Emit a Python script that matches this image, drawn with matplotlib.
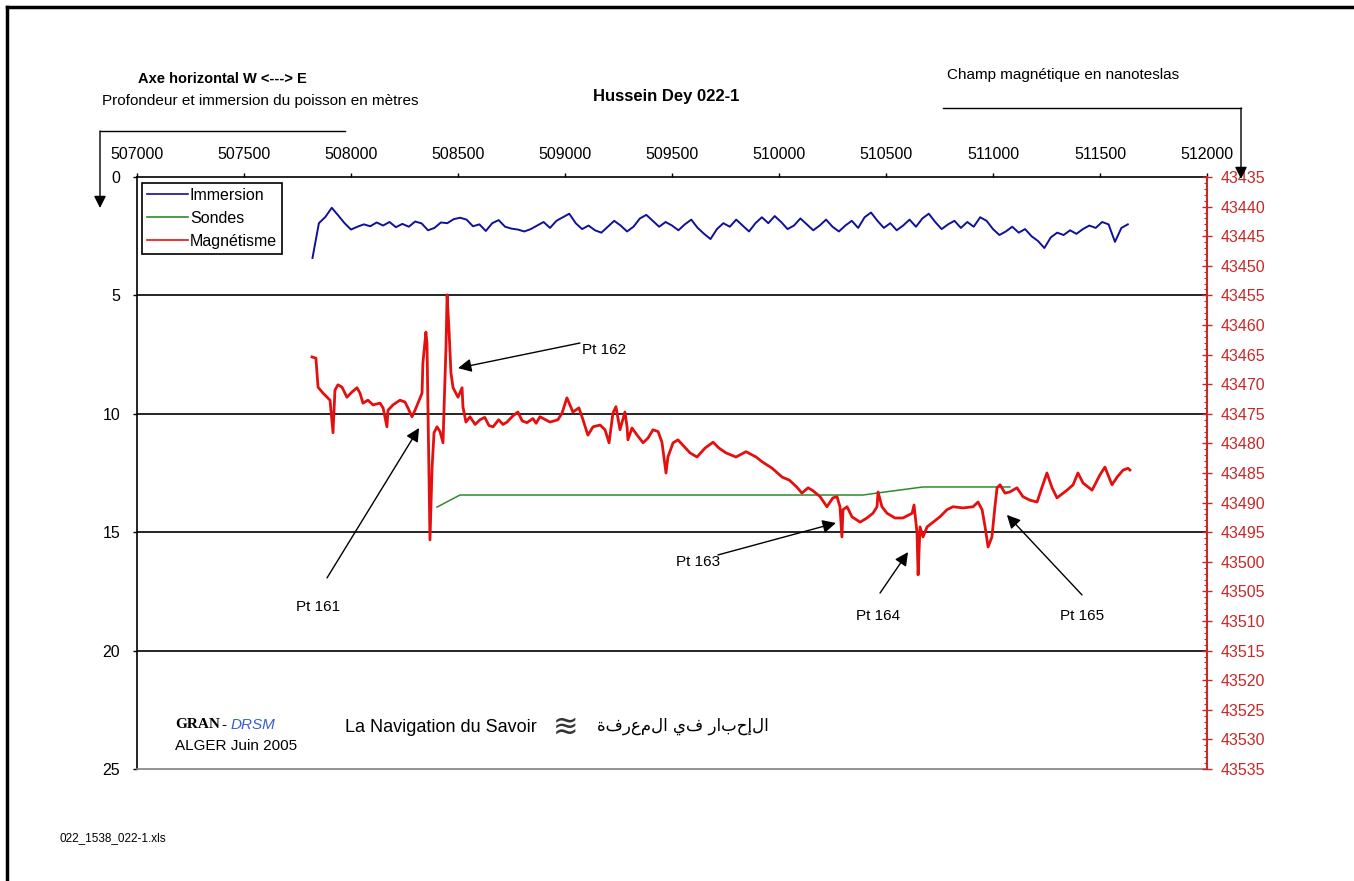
import numpy as np
import matplotlib
matplotlib.use('Agg')
import matplotlib.pyplot as plt
from matplotlib.lines import Line2D
from matplotlib.ticker import MultipleLocator

plt.rcParams['font.family'] = ['Liberation Sans', 'DejaVu Sans']

W, H = 1354, 881

# ── Data ──────────────────────────────────────────────────────────────────────
# Immersion (depth of the towed fish, m), regular 30 m sampling from 507820
imm_start, imm_step = 507820, 30
imm_depth = [
    3.42, 1.95, 1.69, 1.30, 1.62, 1.95, 2.22, 2.10, 2.00, 2.08,
    1.92, 2.05, 1.90, 2.12, 1.98, 2.10, 1.88, 1.96, 2.25, 2.15,
    1.92, 1.95, 1.78, 1.72, 1.80, 2.08, 2.00, 2.28, 1.95, 1.82,
    2.10, 2.18, 2.22, 2.30, 2.20, 2.05, 1.90, 2.15, 1.85, 1.70,
    1.55, 1.95, 2.20, 2.05, 2.25, 2.35, 2.10, 1.85, 2.05, 2.30,
    2.10, 1.75, 1.60, 1.85, 2.10, 1.90, 2.05, 2.25, 2.00, 1.80,
    2.15, 2.40, 2.62, 2.20, 1.95, 2.10, 1.80, 2.05, 2.30, 1.95,
    1.70, 1.95, 1.65, 1.90, 2.20, 2.05, 1.75, 2.00, 2.25, 2.05,
    1.80, 2.10, 2.30, 2.05, 1.85, 2.15, 1.70, 1.50, 1.85, 2.15,
    1.95, 2.25, 2.05, 1.80, 2.10, 1.75, 1.55, 1.90, 2.20, 2.00,
    1.85, 2.15, 1.90, 2.10, 1.70, 1.85, 2.20, 2.45, 2.30, 2.10,
    2.35, 2.20, 2.50, 2.70, 3.00, 2.55, 2.35, 2.45, 2.25, 2.40,
    2.20, 2.05, 2.15, 1.90, 2.00, 2.74, 2.15, 2.00,
]

# Sondes (sounded depth, m)
sondes_e = [508402, 508509, 510393, 510463, 510673, 511079]
sondes_depth = [13.94, 13.43, 13.43, 13.34, 13.09, 13.09]

# Magnetisme (nT)
mag_e = [
    507818, 507836, 507846, 507869, 507902, 507916, 507925, 507939, 507958, 507981,
    508005, 508028, 508042, 508056, 508079, 508103, 508136, 508150, 508168, 508173,
    508196, 508229, 508252, 508266, 508285, 508299, 508313, 508332, 508336, 508350,
    508355, 508360, 508369, 508379, 508388, 508402, 508416, 508430, 508435, 508444,
    508449, 508458, 508467, 508477, 508500, 508519, 508523, 508537, 508556, 508580,
    508603, 508625, 508645, 508664, 508690, 508710, 508729, 508755, 508780, 508800,
    508822, 508850, 508865, 508883, 508930, 508967, 508986, 509009, 509037, 509065,
    509084, 509107, 509131, 509164, 509187, 509206, 509224, 509238, 509257, 509280,
    509290, 509294, 509313, 509337, 509365, 509388, 509411, 509435, 509453, 509472,
    509481, 509505, 509528, 509551, 509584, 509617, 509654, 509692, 509720, 509752,
    509799, 509846, 509893, 509921, 509968, 510015, 510048, 510084, 510107, 510136,
    510159, 510192, 510224, 510252, 510271, 510285, 510294, 510299, 510318, 510341,
    510379, 510411, 510439, 510458, 510463, 510481, 510505, 510542, 510579, 510622,
    510631, 510645, 510650, 510659, 510673, 510692, 510720, 510752, 510785, 510813,
    510860, 510907, 510930, 510949, 510963, 510977, 510995, 511009, 511019, 511033,
    511056, 511079, 511112, 511140, 511173, 511206, 511229, 511252, 511276, 511299,
    511346, 511374, 511397, 511421, 511463, 511500, 511523, 511556, 511580, 511608,
    511631, 511640,
]
mag_nt = [
    43465.4, 43465.6, 43470.5, 43471.5, 43472.7, 43478.2, 43471.0, 43470.1, 43470.5, 43472.2,
    43471.3, 43470.6, 43471.5, 43473.2, 43472.7, 43473.5, 43473.2, 43474.0, 43477.2, 43474.4,
    43473.5, 43472.7, 43473.0, 43474.0, 43475.5, 43474.4, 43473.2, 43471.5, 43466.4, 43461.2,
    43463.0, 43474.9, 43496.3, 43484.0, 43478.2, 43477.2, 43478.0, 43479.9, 43473.8, 43463.7,
    43454.9, 43460.8, 43468.1, 43470.6, 43472.2, 43470.6, 43473.8, 43476.4, 43475.5, 43476.8,
    43476.0, 43475.6, 43477.0, 43477.2, 43476.0, 43476.8, 43476.4, 43475.4, 43474.7, 43476.2,
    43476.5, 43475.8, 43476.6, 43475.5, 43476.4, 43476.0, 43474.9, 43472.3, 43474.7, 43474.0,
    43476.0, 43478.6, 43477.2, 43476.9, 43477.7, 43479.9, 43474.9, 43473.8, 43477.7, 43474.7,
    43477.2, 43479.4, 43477.4, 43478.6, 43479.9, 43479.1, 43477.7, 43478.0, 43479.8, 43485.0,
    43482.3, 43479.9, 43479.4, 43480.3, 43481.6, 43482.3, 43480.8, 43479.8, 43480.8, 43481.6,
    43482.3, 43481.4, 43482.3, 43483.1, 43484.2, 43485.7, 43486.2, 43487.4, 43488.4, 43487.5,
    43488.0, 43489.0, 43490.7, 43489.2, 43489.0, 43490.7, 43495.8, 43491.2, 43490.7, 43492.4,
    43493.3, 43492.6, 43491.8, 43490.7, 43488.2, 43490.7, 43491.8, 43492.6, 43492.6, 43491.8,
    43490.4, 43495.1, 43502.2, 43494.1, 43495.8, 43494.1, 43493.3, 43492.4, 43491.2, 43490.7,
    43490.9, 43490.7, 43489.9, 43491.2, 43494.1, 43497.5, 43495.8, 43490.7, 43487.5, 43487.0,
    43488.4, 43488.2, 43487.5, 43489.0, 43489.6, 43489.9, 43487.4, 43485.0, 43487.5, 43489.2,
    43487.9, 43487.0, 43485.0, 43486.7, 43487.9, 43485.3, 43484.0, 43487.0, 43485.7, 43484.5,
    43484.2, 43484.5,
]

x_ticks = np.arange(507000, 512001, 500)
depth_ticks = [0, 5, 10, 15, 20, 25]
nt_ticks = np.arange(43435, 43536, 5)

series_labels = ['Immersion', 'Sondes', 'Magnétisme']
series_colors = ['#10109a', '#2e8b2e', '#e41010']

# Point labels: (text, arrow tip, arrow tail, text pos) in (easting, depth)
pt_labels = ['Pt 161', 'Pt 162', 'Pt 163', 'Pt 164', 'Pt 165']
pt_tip = [(508318, 10.60), (508500, 8.07), (510266, 14.61), (510603, 15.84), (511065, 14.27)]
pt_tail = [(507888, 16.93), (509070, 7.01), (509715, 15.96), (510472, 17.57), (511416, 17.65)]
pt_text = [(507846, 18.16), (509182, 7.31), (509622, 16.26), (510463, 18.54), (511416, 18.54)]

# ── Figure ────────────────────────────────────────────────────────────────────
fig = plt.figure(figsize=(W / 100, H / 100), dpi=100, facecolor='white')
ax = fig.add_axes([137 / W, 1 - 769 / H, (1207 - 137) / W, (769 - 177) / H])
ax2 = ax.twinx()

imm_e = imm_start + imm_step * np.arange(len(imm_depth))
ax.plot(imm_e, imm_depth, color=series_colors[0], lw=1.4, zorder=3)
ax.plot(sondes_e, sondes_depth, color=series_colors[1], lw=1.1, zorder=3)
ax2.plot(mag_e, mag_nt, color=series_colors[2], lw=2.0, zorder=3)

# left (depth) axis, x on top
ax.set_xlim(x_ticks[0], x_ticks[-1])
ax.set_ylim(depth_ticks[-1], depth_ticks[0])
ax.set_yticks(depth_ticks)
ax.set_xticks(x_ticks)
ax.xaxis.tick_top()
ax.tick_params(axis='x', which='major', top=True, bottom=False, direction='out',
               length=3, width=1, pad=8, labelsize=11.5)
ax.tick_params(axis='y', which='major', direction='out', length=3, width=1, pad=9,
               labelsize=11.5, right=False)
for d in depth_ticks[1:-1]:
    ax.axhline(d, color='black', lw=1.2, zorder=1)
ax.spines['top'].set_linewidth(1.2)
ax.spines['left'].set_linewidth(1.2)
ax.spines['bottom'].set_color('#808080')
ax.spines['bottom'].set_linewidth(1.2)
ax.spines['right'].set_visible(False)

# right (nT) axis
red = '#c82828'
ax2.set_ylim(nt_ticks[-1], nt_ticks[0])
ax2.set_yticks(nt_ticks)
ax2.yaxis.set_minor_locator(MultipleLocator(1))
ax2.tick_params(axis='y', which='major', direction='inout', length=7, width=1,
                colors=red, labelcolor=red, pad=6, labelsize=11.5)
ax2.tick_params(axis='y', which='minor', direction='in', length=2.5, width=0.8, colors=red)
ax2.spines['right'].set_color(red)
ax2.spines['right'].set_linewidth(1.5)
for s in ['top', 'left', 'bottom']:
    ax2.spines[s].set_visible(False)

# annotations
for lab, tip, tail, tpos in zip(pt_labels, pt_tip, pt_tail, pt_text):
    ax.annotate('', xy=tip, xytext=tail,
                arrowprops=dict(arrowstyle='-|>', color='black', lw=1,
                                mutation_scale=20, shrinkA=0, shrinkB=0), zorder=6)
    ax.text(*tpos, lab, fontsize=11, ha='center', va='center', zorder=6)

# legend
handles = [Line2D([], [], color=c, lw=1.2) for c in series_colors]
leg = ax2.legend(handles, series_labels, loc='upper left',
                 bbox_to_anchor=((142 - 137) / 1070, 1 - (183 - 177) / 592),
                 borderaxespad=0, fancybox=False, edgecolor='black', framealpha=1,
                 fontsize=11.5, handlelength=2.6, handletextpad=0.1, borderpad=0.3,
                 labelspacing=0.5)
leg.get_frame().set_linewidth(1.2)
leg.set_zorder(10)

# ── Overlay: titles, axis arrows, credits (pixel coordinates) ────────────────
ov = fig.add_axes([0, 0, 1, 1], zorder=5)
ov.set_xlim(0, W); ov.set_ylim(H, 0); ov.axis('off'); ov.patch.set_alpha(0)

ov.plot([7, 7], [H, 7], color='black', lw=2.5)
ov.plot([7, W], [7, 7], color='black', lw=2.5)

ov.text(138, 79, 'Axe horizontal W <---> E', fontsize=10.5, fontweight='bold', va='center')
ov.text(102, 101, 'Profondeur et immersion du poisson en mètres', fontsize=11, va='center')
ov.text(666, 97, 'Hussein Dey 022-1', fontsize=12, fontweight='bold', ha='center', va='center')
ov.text(947, 75, 'Champ magnétique en nanoteslas', fontsize=11, va='center')

ov.plot([100, 345], [131, 131], color='black', lw=1)
ov.annotate('', xy=(100, 208), xytext=(100, 131),
            arrowprops=dict(arrowstyle='-|>', color='black', lw=1, mutation_scale=18,
                            shrinkA=0, shrinkB=0))
ov.plot([943, 1241], [108, 108], color='black', lw=1)
ov.annotate('', xy=(1241, 179), xytext=(1241, 108),
            arrowprops=dict(arrowstyle='-|>', color='black', lw=1, mutation_scale=18,
                            shrinkA=0, shrinkB=0))

ov.text(175, 725, 'GRAN', family='Liberation Serif', fontweight='bold', fontsize=11, va='center')
ov.text(221, 725, '-', fontsize=11, va='center')
ov.text(231, 725, 'DRSM', fontsize=11, style='italic', color='#3a5fcd', va='center')
ov.text(175, 746, 'ALGER Juin 2005', fontsize=11, va='center')
ov.text(345, 727, 'La Navigation du Savoir', fontsize=13, va='center')
ov.text(553, 727, '≋', fontsize=22, color='#333333', va='center', family='DejaVu Sans')
# Arabic given in visual (left-to-right) order: the renderer does no bidi reordering
ov.text(597, 726, 'ةفرعملا يف رابحإلا', family=['DejaVu Sans'], fontsize=12, va='center')
ov.text(60, 838, '022_1538_022-1.xls', fontsize=8.5, va='center')

fig.savefig('out.png', dpi=100, facecolor='white')
